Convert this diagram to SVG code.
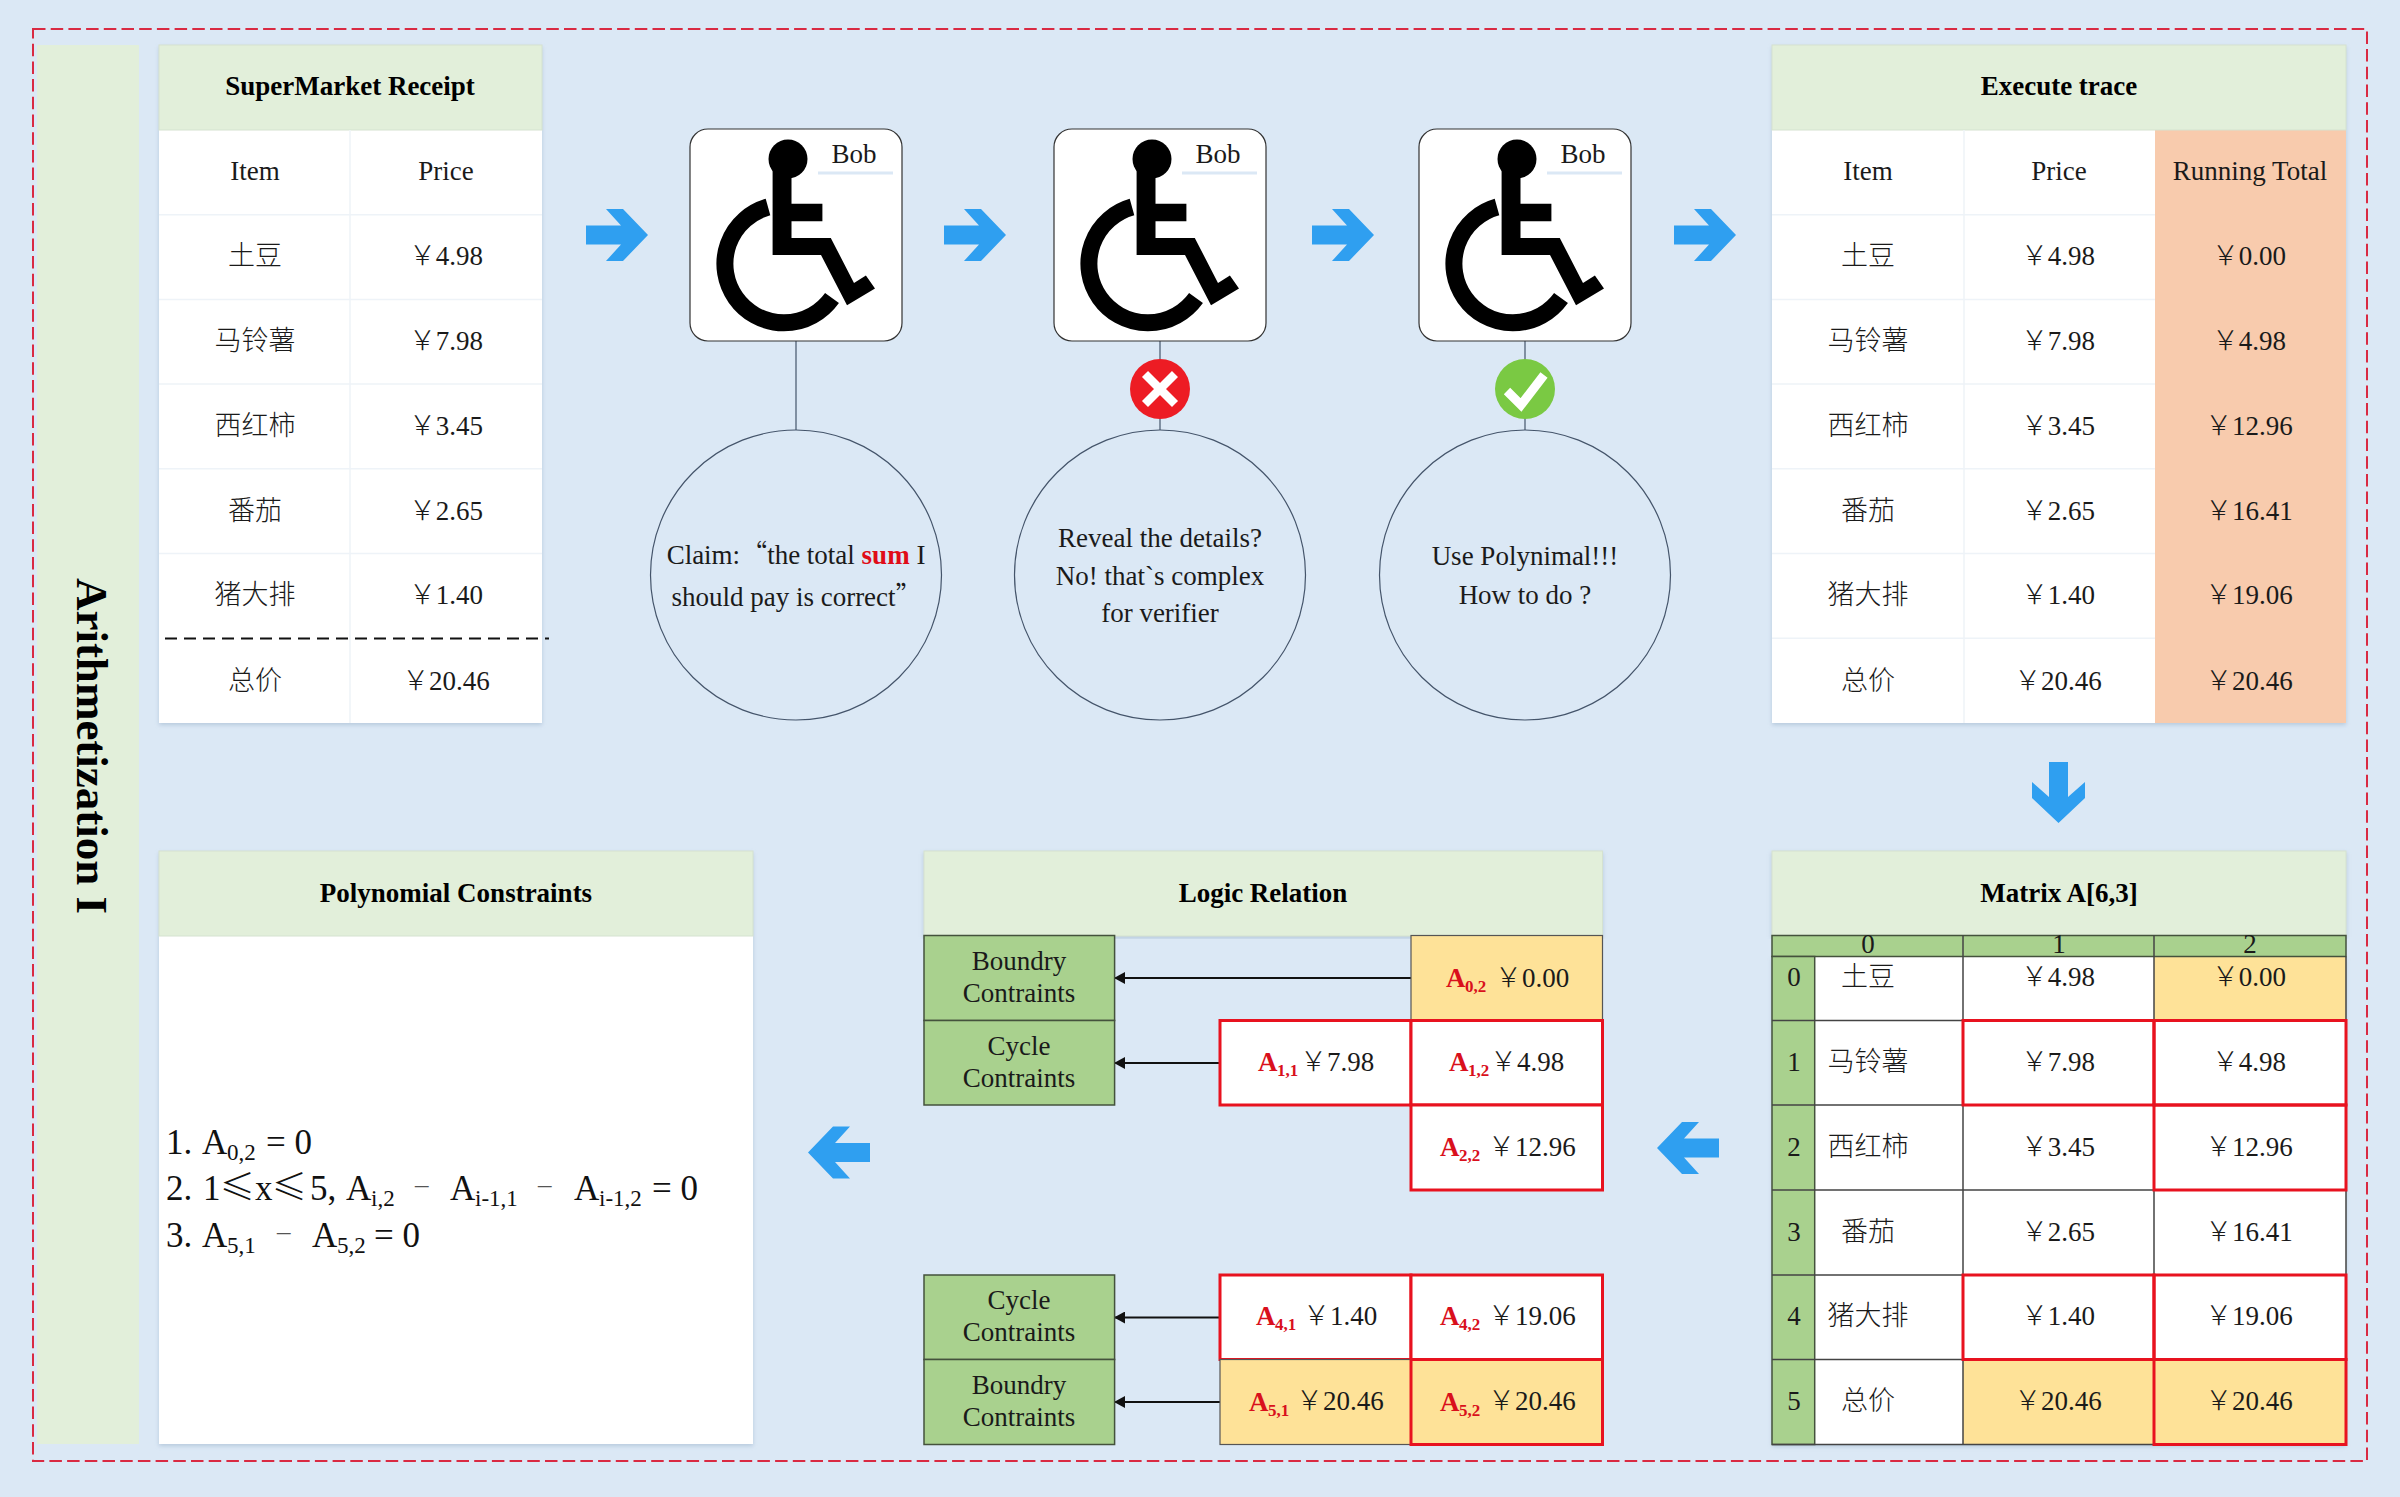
<svg xmlns="http://www.w3.org/2000/svg" width="2400" height="1497" viewBox="0 0 2400 1497">
<style>
text{font-family:"Liberation Serif","Noto Sans CJK SC",serif;font-size:27px;font-weight:300;fill:#1a1a1a;text-anchor:middle}
.t{font-weight:bold;font-size:27px;fill:#000}
.l{text-anchor:start}
.p{font-size:35px;text-anchor:start;fill:#111}
.ps{font-size:23px;text-anchor:start;fill:#111}
.mi{font-size:27px;text-anchor:start;fill:#555}
.le{font-family:"Noto Sans CJK SC","Liberation Serif",sans-serif}
.q{font-family:"Noto Sans CJK SC","Liberation Serif",sans-serif}
.r{font-weight:bold;fill:#d9101c;text-anchor:start}
.rs{font-weight:bold;font-size:17px;fill:#d9101c;text-anchor:start}
.w{fill:#fff}
.h{fill:#e2efda;stroke:#d5e2d0;stroke-width:1}
.d{stroke:#eef3f8;stroke-width:1.5;fill:none}
.g{fill:#a9d18e;stroke:#44523c;stroke-width:1.5}
.y{fill:#fee298}
.o{fill:#f8cbad}
.m{stroke:#444;stroke-width:1.5;fill:none}
.red{fill:none;stroke:#e8121f;stroke-width:3}
.c{fill:none;stroke:#44546a;stroke-width:1.2}
.bx{fill:#fff;stroke:#333;stroke-width:1.2}
.cn{stroke:#44546a;stroke-width:1.2;fill:none}
.ar{stroke:#111;stroke-width:2;fill:none;marker-end:url(#tip)}
.sh{filter:url(#soft)}
.bl{fill:#2f9ff0}
</style>
<defs>
<filter id="soft" x="-3%" y="-3%" width="106%" height="106%"><feDropShadow dx="0" dy="2" stdDeviation="2" flood-color="#8aa4bf" flood-opacity="0.45"/></filter>
<marker id="tip" markerUnits="userSpaceOnUse" markerWidth="11" markerHeight="12" refX="10" refY="6" orient="auto"><path d="M0 0L11 6L0 12Z" fill="#111"/></marker>
<path id="arrow" class="bl" d="M-31 -9.500H4L-11 -26H6L31 0L6 26H-11L4 9.500H-31Z"/>
<g id="chair">
<path fill="#000" d="M772.600 169.400H791.500V203.700H822.400V221.200H791.500V238H830.800L854 282.900L865.900 275.500L875 288.600L847 305.300L821 255.100H772.600Z"/>
<circle cx="788" cy="159" r="19.500" fill="#000"/>
<path d="M768 207A59 59 0 1 0 832 298" fill="none" stroke="#000" stroke-width="17"/>
</g>
</defs>
<rect width="2400" height="1497" fill="#dbe8f5"/>
<rect id="frame" x="33" y="29" width="2334" height="1432" fill="none" stroke="#d92a42" stroke-width="2" stroke-dasharray="12.500 5.200"/>

<g id="title-bar">
<rect x="37" y="45" width="102" height="1399" fill="#e2efda"/>
<text class="t" transform="translate(77,746) rotate(90)" style="font-size:45px">Arithmetization I</text>
</g>

<g id="connectors">
<line class="cn" x1="796" y1="341" x2="796" y2="430"/>
<line class="cn" x1="1160" y1="341" x2="1160" y2="430"/>
<line class="cn" x1="1525" y1="341" x2="1525" y2="430"/>
<line class="ar" x1="1411" y1="978" x2="1115" y2="978"/>
<line class="ar" x1="1220" y1="1063" x2="1115" y2="1063"/>
<line class="ar" x1="1220" y1="1317.500" x2="1115" y2="1317.500"/>
<line class="ar" x1="1220" y1="1402" x2="1115" y2="1402"/>
<use href="#arrow" transform="translate(617,235)"/>
<use href="#arrow" transform="translate(975,235)"/>
<use href="#arrow" transform="translate(1343,235)"/>
<use href="#arrow" transform="translate(1705,235)"/>
<path class="bl" d="M2049 762H2068V797L2085 782V798L2058.500 823L2032 798V782L2049 797Z"/>
<use href="#arrow" transform="translate(1688,1148) rotate(180)"/>
<use href="#arrow" transform="translate(839,1152.500) rotate(180)"/>
</g>

<g id="receipt">
<rect class="w sh" x="159" y="45" width="383" height="678"/>
<rect class="h" x="159" y="45" width="383" height="85"/>
<path class="d" d="M350 130V723M159 214.700H542M159 299.400H542M159 384.100H542M159 468.800H542M159 553.500H542"/>
<text class="t" x="350" y="95">SuperMarket Receipt</text>
<text x="255" y="180">Item</text><text x="446" y="180">Price</text>
<text x="255" y="265">土豆</text><text x="446" y="265">￥4.98</text>
<text x="255" y="350">马铃薯</text><text x="446" y="350">￥7.98</text>
<text x="255" y="435">西红柿</text><text x="446" y="435">￥3.45</text>
<text x="255" y="520">番茄</text><text x="446" y="520">￥2.65</text>
<text x="255" y="604">猪大排</text><text x="446" y="604">￥1.40</text>
<text x="255" y="690">总价</text><text x="446" y="690">￥20.46</text>
<line x1="165" y1="638.500" x2="549" y2="638.500" stroke="#111" stroke-width="2" stroke-dasharray="12 7"/>
</g>

<g id="bob1">
<rect class="bx" x="690" y="129" width="212" height="212" rx="18"/>
<use href="#chair"/>
<rect x="818" y="134" width="75" height="39" fill="#fff"/><line x1="818" y1="173" x2="893" y2="173" stroke="#dbe8f5" stroke-width="3"/>
<text x="854" y="163">Bob</text>
</g>
<g id="claim">
<ellipse class="c" cx="796" cy="575" rx="145.500" ry="145"/>
<text x="796" y="564">Claim:<tspan class="q">“</tspan>the total <tspan style="fill:#e00c18;font-weight:bold">sum</tspan> I</text>
<text x="797" y="606">should pay is correct<tspan class="q">”</tspan></text>
</g>

<g id="bob2">
<rect class="bx" x="1054" y="129" width="212" height="212" rx="18"/>
<use href="#chair" transform="translate(364,0)"/>
<rect x="1182" y="134" width="75" height="39" fill="#fff"/><line x1="1182" y1="173" x2="1257" y2="173" stroke="#dbe8f5" stroke-width="3"/>
<text x="1218" y="163">Bob</text>
</g>
<g id="reject">
<circle cx="1160" cy="389" r="30" fill="#ed1c24"/>
<path d="M1145 374L1175 404M1175 374L1145 404" stroke="#fff" stroke-width="8.500" fill="none"/>
</g>
<g id="reveal">
<ellipse class="c" cx="1160" cy="575" rx="145.500" ry="145"/>
<text x="1160" y="547">Reveal the details?</text>
<text x="1160" y="585">No! that`s complex</text>
<text x="1160" y="622">for verifier</text>
</g>

<g id="bob3">
<rect class="bx" x="1419" y="129" width="212" height="212" rx="18"/>
<use href="#chair" transform="translate(729,0)"/>
<rect x="1547" y="134" width="75" height="39" fill="#fff"/><line x1="1547" y1="173" x2="1622" y2="173" stroke="#dbe8f5" stroke-width="3"/>
<text x="1583" y="163">Bob</text>
</g>
<g id="accept">
<circle cx="1525" cy="389" r="30" fill="#7ac943"/>
<path d="M1507 391L1521 405L1544 375" stroke="#fff" stroke-width="9" fill="none"/>
</g>
<g id="polynimal">
<ellipse class="c" cx="1525" cy="575" rx="145.500" ry="145"/>
<text x="1525" y="565">Use Polynimal!!!</text>
<text x="1525" y="604">How to do ?</text>
</g>

<g id="trace">
<rect class="w sh" x="1772" y="45" width="574" height="678"/>
<rect class="o" x="2155" y="130" width="191" height="593"/>
<rect class="h" x="1772" y="45" width="574" height="85"/>
<path class="d" d="M1964 130V723M1772 214.700H2155M1772 299.400H2155M1772 384.100H2155M1772 468.800H2155M1772 553.500H2155M1772 638.200H2155"/>
<text class="t" x="2059" y="95">Execute trace</text>
<text x="1868" y="180">Item</text><text x="2059" y="180">Price</text><text x="2250" y="180">Running Total</text>
<text x="1868" y="265">土豆</text><text x="2058" y="265">￥4.98</text><text x="2249" y="265">￥0.00</text>
<text x="1868" y="350">马铃薯</text><text x="2058" y="350">￥7.98</text><text x="2249" y="350">￥4.98</text>
<text x="1868" y="435">西红柿</text><text x="2058" y="435">￥3.45</text><text x="2249" y="435">￥12.96</text>
<text x="1868" y="520">番茄</text><text x="2058" y="520">￥2.65</text><text x="2249" y="520">￥16.41</text>
<text x="1868" y="604">猪大排</text><text x="2058" y="604">￥1.40</text><text x="2249" y="604">￥19.06</text>
<text x="1868" y="690">总价</text><text x="2058" y="690">￥20.46</text><text x="2249" y="690">￥20.46</text>
</g>

<g id="matrix">
<rect class="h sh" x="1772" y="851" width="574" height="85"/>
<rect x="1772" y="956.500" width="574" height="488" fill="#fff" class="sh"/>
<rect class="y" x="2154" y="956.500" width="192" height="64"/>
<rect class="y" x="1963" y="1359.500" width="383" height="85"/>
<rect class="g" x="1772" y="935.500" width="574" height="21"/>
<rect class="g" x="1772" y="956.500" width="42.700" height="488"/>
<path class="m" d="M1963 935.500V1444.500M2154 935.500V1444.500M2346 956.500V1444.500M1772 1020.500H2346M1772 1105H2346M1772 1190H2346M1772 1275H2346M1772 1359.500H2346M1772 1444.500H2346"/>
<rect class="red" x="1963" y="1020.500" width="191" height="84.500"/>
<rect class="red" x="2154" y="1020.500" width="192" height="84.500"/>
<rect class="red" x="2154" y="1105" width="192" height="85"/>
<rect class="red" x="1963" y="1275" width="191" height="84.500"/>
<rect class="red" x="2154" y="1275" width="192" height="84.500"/>
<rect class="red" x="2154" y="1359.500" width="192" height="85"/>
<text class="t" x="2059" y="902">Matrix A[6,3]</text>
<text x="1868" y="953">0</text><text x="2059" y="953">1</text><text x="2250" y="953">2</text>
<text x="1794" y="986">0</text><text x="1868" y="986">土豆</text><text x="2058" y="986">￥4.98</text><text x="2249" y="986">￥0.00</text>
<text x="1794" y="1071">1</text><text x="1868" y="1071">马铃薯</text><text x="2058" y="1071">￥7.98</text><text x="2249" y="1071">￥4.98</text>
<text x="1794" y="1156">2</text><text x="1868" y="1156">西红柿</text><text x="2058" y="1156">￥3.45</text><text x="2249" y="1156">￥12.96</text>
<text x="1794" y="1241">3</text><text x="1868" y="1241">番茄</text><text x="2058" y="1241">￥2.65</text><text x="2249" y="1241">￥16.41</text>
<text x="1794" y="1325">4</text><text x="1868" y="1325">猪大排</text><text x="2058" y="1325">￥1.40</text><text x="2249" y="1325">￥19.06</text>
<text x="1794" y="1410">5</text><text x="1868" y="1410">总价</text><text x="2058" y="1410">￥20.46</text><text x="2249" y="1410">￥20.46</text>
</g>

<g id="logic">
<rect class="h sh" x="924" y="851" width="678.500" height="85"/>
<text class="t" x="1263" y="902">Logic Relation</text>
<rect class="g" x="924" y="935.500" width="190.600" height="85"/>
<text x="1019" y="970">Boundry</text><text x="1019" y="1002">Contraints</text>
<rect class="g" x="924" y="1020.500" width="190.600" height="84.500"/>
<text x="1019" y="1055">Cycle</text><text x="1019" y="1087">Contraints</text>
<rect class="g" x="924" y="1275" width="190.600" height="84.500"/>
<text x="1019" y="1309">Cycle</text><text x="1019" y="1341">Contraints</text>
<rect class="g" x="924" y="1359.500" width="190.600" height="85"/>
<text x="1019" y="1394">Boundry</text><text x="1019" y="1426">Contraints</text>

<rect class="y" x="1411" y="935.500" width="191.500" height="85" stroke="#555" stroke-width="1.200"/>
<text class="r" x="1446" y="987">A</text><text class="rs" x="1465" y="992">0,2</text><text class="l" x="1495" y="987">￥0.00</text>
<rect class="w" x="1220" y="1020.500" width="191" height="84.500"/><rect class="red" x="1220" y="1020.500" width="191" height="84.500"/>
<text class="r" x="1258" y="1071">A</text><text class="rs" x="1277" y="1076">1,1</text><text class="l" x="1300" y="1071">￥7.98</text>
<rect class="w" x="1411" y="1020.500" width="191.500" height="84.500"/><rect class="red" x="1411" y="1020.500" width="191.500" height="84.500"/>
<text class="r" x="1449" y="1071">A</text><text class="rs" x="1468" y="1076">1,2</text><text class="l" x="1490" y="1071">￥4.98</text>
<rect class="w" x="1411" y="1105" width="191.500" height="85"/><rect class="red" x="1411" y="1105" width="191.500" height="85"/>
<text class="r" x="1440" y="1156">A</text><text class="rs" x="1459" y="1161">2,2</text><text class="l" x="1488" y="1156">￥12.96</text>
<rect class="w" x="1220" y="1275" width="191" height="84.500"/><rect class="red" x="1220" y="1275" width="191" height="84.500"/>
<text class="r" x="1256" y="1325">A</text><text class="rs" x="1275" y="1330">4,1</text><text class="l" x="1303" y="1325">￥1.40</text>
<rect class="w" x="1411" y="1275" width="191.500" height="84.500"/><rect class="red" x="1411" y="1275" width="191.500" height="84.500"/>
<text class="r" x="1440" y="1325">A</text><text class="rs" x="1459" y="1330">4,2</text><text class="l" x="1488" y="1325">￥19.06</text>
<rect class="y" x="1220" y="1359.500" width="191" height="85" stroke="#555" stroke-width="1.200"/>
<text class="r" x="1249" y="1411">A</text><text class="rs" x="1268" y="1416">5,1</text><text class="l" x="1296" y="1410">￥20.46</text>
<rect class="y" x="1411" y="1359.500" width="191.500" height="85"/><rect class="red" x="1411" y="1359.500" width="191.500" height="85"/>
<text class="r" x="1440" y="1411">A</text><text class="rs" x="1459" y="1416">5,2</text><text class="l" x="1488" y="1410">￥20.46</text>
</g>

<g id="poly">
<rect class="w sh" x="159" y="851" width="594" height="593"/>
<rect class="h" x="159" y="851" width="594" height="85"/>
<text class="t" x="456" y="902">Polynomial Constraints</text>
<text class="p" x="166" y="1154">1.</text><text class="p" x="202" y="1154">A</text><text class="ps" x="227" y="1160">0,2</text><text class="p" x="266" y="1154">= 0</text>
<text class="p" x="166" y="1200">2.</text><text class="p" x="203" y="1200">1</text><text class="p le" x="220" y="1200">≤</text><text class="p" x="255" y="1200">x</text><text class="p le" x="272" y="1200">≤</text><text class="p" x="310" y="1200">5,</text><text class="p" x="346" y="1200">A</text><text class="ps" x="371" y="1206">i,2</text><text class="mi" x="415" y="1193">–</text><text class="p" x="450" y="1200">A</text><text class="ps" x="475" y="1206">i-1,1</text><text class="mi" x="538" y="1193">–</text><text class="p" x="574" y="1200">A</text><text class="ps" x="599" y="1206">i-1,2</text><text class="p" x="652" y="1200">= 0</text>
<text class="p" x="166" y="1247">3.</text><text class="p" x="202" y="1247">A</text><text class="ps" x="227" y="1253">5,1</text><text class="mi" x="277" y="1240">–</text><text class="p" x="312" y="1247">A</text><text class="ps" x="337" y="1253">5,2</text><text class="p" x="374" y="1247">= 0</text>
</g>
</svg>
